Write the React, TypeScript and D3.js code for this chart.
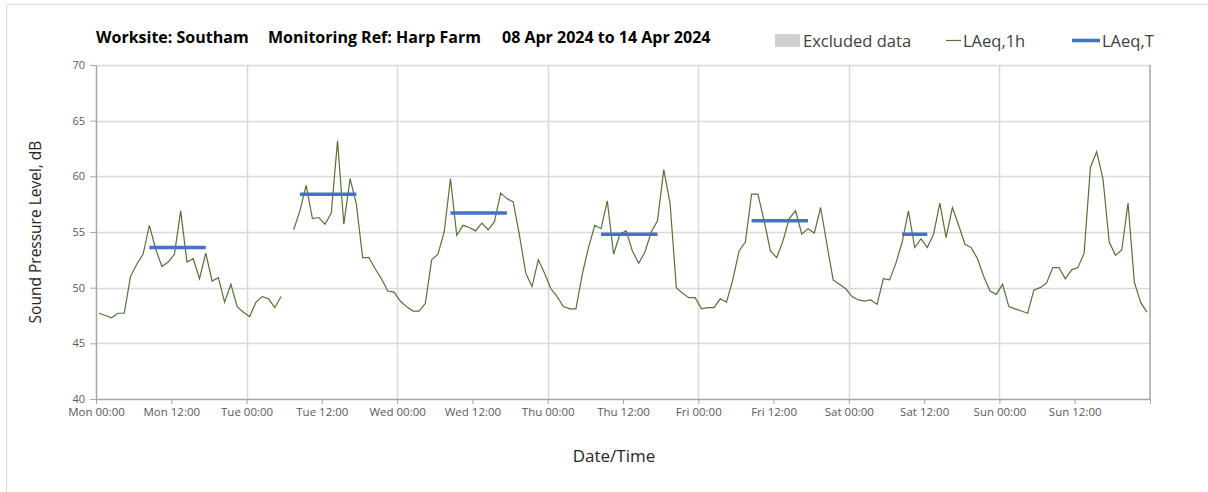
import React, { useEffect, useRef } from 'react';
import * as d3 from 'd3';

const width = 1208;
const height = 492;
const margin = { top: 65, right: 58, bottom: 93, left: 96 };

// hourly LAeq,1h values, one array per day, 00:00 .. 23:00
const mon = [47.7, 47.5, 47.3, 47.7, 47.7, 51.0, 52.1, 53.0, 55.6, 53.5, 51.9, 52.3, 53.0, 56.9, 52.3, 52.6, 50.8, 53.1, 50.6, 50.9, 48.7, 50.3, 48.3, 47.8];
const tue = [47.4, 48.7, 49.2, 49.0, 48.2, 49.2, null, 55.2, 56.9, 59.2, 56.2, 56.3, 55.7, 56.7, 63.2, 55.7, 59.8, 57.5, 52.7, 52.7, 51.7, 50.8, 49.7, 49.6];
const wed = [48.8, 48.3, 47.9, 47.9, 48.6, 52.5, 53.0, 55.0, 59.8, 54.7, 55.6, 55.4, 55.1, 55.8, 55.2, 55.9, 58.5, 58.0, 57.7, 54.7, 51.3, 50.1, 52.5, 51.3];
const thu = [49.9, 49.2, 48.3, 48.1, 48.1, 51.2, 53.6, 55.6, 55.3, 57.8, 53.0, 54.8, 55.1, 53.3, 52.2, 53.2, 55.0, 56.0, 60.6, 57.6, 50.0, 49.5, 49.1, 49.1];
const fri = [48.1, 48.2, 48.2, 49.0, 48.7, 50.7, 53.3, 54.1, 58.4, 58.4, 56.0, 53.3, 52.7, 54.2, 56.2, 56.9, 54.8, 55.3, 54.9, 57.2, 53.9, 50.7, 50.3, 49.9];
const sat = [49.2, 48.9, 48.8, 48.9, 48.5, 50.8, 50.7, 52.2, 54.1, 56.9, 53.6, 54.4, 53.6, 54.8, 57.6, 54.5, 57.2, 55.6, 53.9, 53.6, 52.6, 51.0, 49.7, 49.4];
const sun = [50.3, 48.3, 48.1, 47.9, 47.7, 49.8, 50.0, 50.4, 51.8, 51.8, 50.8, 51.6, 51.8, 53.1, 60.8, 62.2, 59.8, 54.1, 52.9, 53.4, 57.6, 50.5, 48.7, 47.8];

// LAeq,T daytime periods (hour index from Mon 00:00)
const periodStart = [8, 32, 56, 80, 104, 128];
const periodEnd = [17, 41, 65, 89, 113, 132];
const periodLevel = [53.6, 58.4, 56.7, 54.8, 56.0, 54.8];

const yTicks = [40, 45, 50, 55, 60, 65, 70];
const xTickLabels = ["Mon 00:00", "Mon 12:00", "Tue 00:00", "Tue 12:00", "Wed 00:00", "Wed 12:00", "Thu 00:00", "Thu 12:00", "Fri 00:00", "Fri 12:00", "Sat 00:00", "Sat 12:00", "Sun 00:00", "Sun 12:00"];

const font = "'Open Sans', sans-serif";

const App = () => {
  const svgRef = useRef(null);

  useEffect(() => {
    const svg = d3.select(svgRef.current);
    svg.selectAll("*").remove();

    const hourly = [...mon, ...tue, ...wed, ...thu, ...fri, ...sat, ...sun];

    const x = d3.scaleLinear().domain([0, 168]).range([margin.left, width - margin.right]);
    const y = d3.scaleLinear().domain([40, 70]).range([height - margin.bottom, margin.top]);

    // outer chart frame
    svg.append("rect")
      .attr("x", 6.5).attr("y", 4.5)
      .attr("width", width + 20).attr("height", height + 20)
      .attr("fill", "#fff").attr("stroke", "#d9d9d9");

    // gridlines
    svg.append("g").selectAll("line")
      .data(yTicks.slice(1))
      .enter().append("line")
      .attr("x1", x(0)).attr("x2", x(168))
      .attr("y1", d => Math.round(y(d)) + 0.5).attr("y2", d => Math.round(y(d)) + 0.5)
      .attr("stroke", "#d9d9d9").attr("stroke-width", 1.5);

    svg.append("g").selectAll("line")
      .data(d3.range(24, 168, 24))
      .enter().append("line")
      .attr("x1", d => Math.round(x(d)) + 0.5).attr("x2", d => Math.round(x(d)) + 0.5)
      .attr("y1", y(40)).attr("y2", y(70))
      .attr("stroke", "#d9d9d9").attr("stroke-width", 1.5);

    // right border
    svg.append("line")
      .attr("x1", x(168)).attr("x2", x(168))
      .attr("y1", y(40)).attr("y2", y(70))
      .attr("stroke", "#a6a6a6").attr("stroke-width", 1.5);

    // axes
    const yAxis = svg.append("g")
      .attr("transform", `translate(${x(0)},0)`)
      .call(d3.axisLeft(y).tickValues(yTicks).tickSize(6).tickSizeOuter(0).tickPadding(5));
    yAxis.select(".domain").attr("stroke", "#a6a6a6").attr("stroke-width", 1.5);
    yAxis.selectAll(".tick line").attr("stroke", "#a6a6a6");
    yAxis.selectAll("text").attr("fill", "#595959").style("font-family", font).style("font-size", "11px");

    const xAxis = svg.append("g")
      .attr("transform", `translate(0,${y(40)})`)
      .call(d3.axisBottom(x)
        .tickValues(d3.range(0, 169, 12))
        .tickSize(5).tickSizeOuter(0).tickPadding(4)
        .tickFormat((d, i) => xTickLabels[i] ?? ""));
    xAxis.select(".domain").attr("stroke", "#a6a6a6").attr("stroke-width", 1.5);
    xAxis.selectAll(".tick line").attr("stroke", "#a6a6a6");
    xAxis.selectAll("text").attr("fill", "#595959").style("font-family", font).style("font-size", "11.5px");

    // LAeq,1h line
    const line = d3.line()
      .defined(d => d != null)
      .x((d, i) => x(i + 0.5))
      .y(d => y(d));

    svg.append("path")
      .datum(hourly)
      .attr("d", line)
      .attr("fill", "none")
      .attr("stroke", "#557336")
      .attr("stroke-width", 1.2);

    // LAeq,T bars
    svg.append("g").selectAll("line")
      .data(periodLevel)
      .enter().append("line")
      .attr("x1", (d, i) => x(periodStart[i] + 0.5))
      .attr("x2", (d, i) => x(periodEnd[i] + 0.5))
      .attr("y1", d => y(d)).attr("y2", d => y(d))
      .attr("stroke", "#4472c4")
      .attr("stroke-width", 3.5);

    // axis titles
    svg.append("text")
      .attr("transform", "rotate(-90)")
      .attr("x", -232).attr("y", 41)
      .attr("text-anchor", "middle")
      .attr("fill", "#262626")
      .style("font-family", font).style("font-size", "15.5px")
      .text("Sound Pressure Level, dB");

    svg.append("text")
      .attr("x", 614).attr("y", 462)
      .attr("text-anchor", "middle")
      .attr("fill", "#262626")
      .style("font-family", font).style("font-size", "17px")
      .text("Date/Time");

    // title
    const title = svg.append("g")
      .style("font-family", font).style("font-size", "16px").style("font-weight", "bold")
      .attr("fill", "#000");
    title.append("text").attr("x", 96).attr("y", 43).text("Worksite: Southam");
    title.append("text").attr("x", 268).attr("y", 43).text("Monitoring Ref: Harp Farm");
    title.append("text").attr("x", 502).attr("y", 43).text("08 Apr 2024 to 14 Apr 2024");

    // legend
    const legend = svg.append("g")
      .style("font-family", font).style("font-size", "16.5px").attr("fill", "#404040");
    legend.append("rect").attr("x", 775).attr("y", 34).attr("width", 25).attr("height", 13).attr("fill", "#d0d0d0");
    legend.append("text").attr("x", 803).attr("y", 47).text("Excluded data");
    legend.append("line").attr("x1", 946).attr("x2", 961).attr("y1", 40.5).attr("y2", 40.5)
      .attr("stroke", "#557336").attr("stroke-width", 1.2);
    legend.append("text").attr("x", 963).attr("y", 47).text("LAeq,1h");
    legend.append("line").attr("x1", 1072).attr("x2", 1100).attr("y1", 40.5).attr("y2", 40.5)
      .attr("stroke", "#4472c4").attr("stroke-width", 3.5);
    legend.append("text").attr("x", 1102).attr("y", 47).text("LAeq,T");
  }, []);

  return (
    <svg ref={svgRef} width={width} height={height}
      style={{ position: 'absolute', left: 0, top: 0, background: '#fff' }} />
  );
};

export default App;
